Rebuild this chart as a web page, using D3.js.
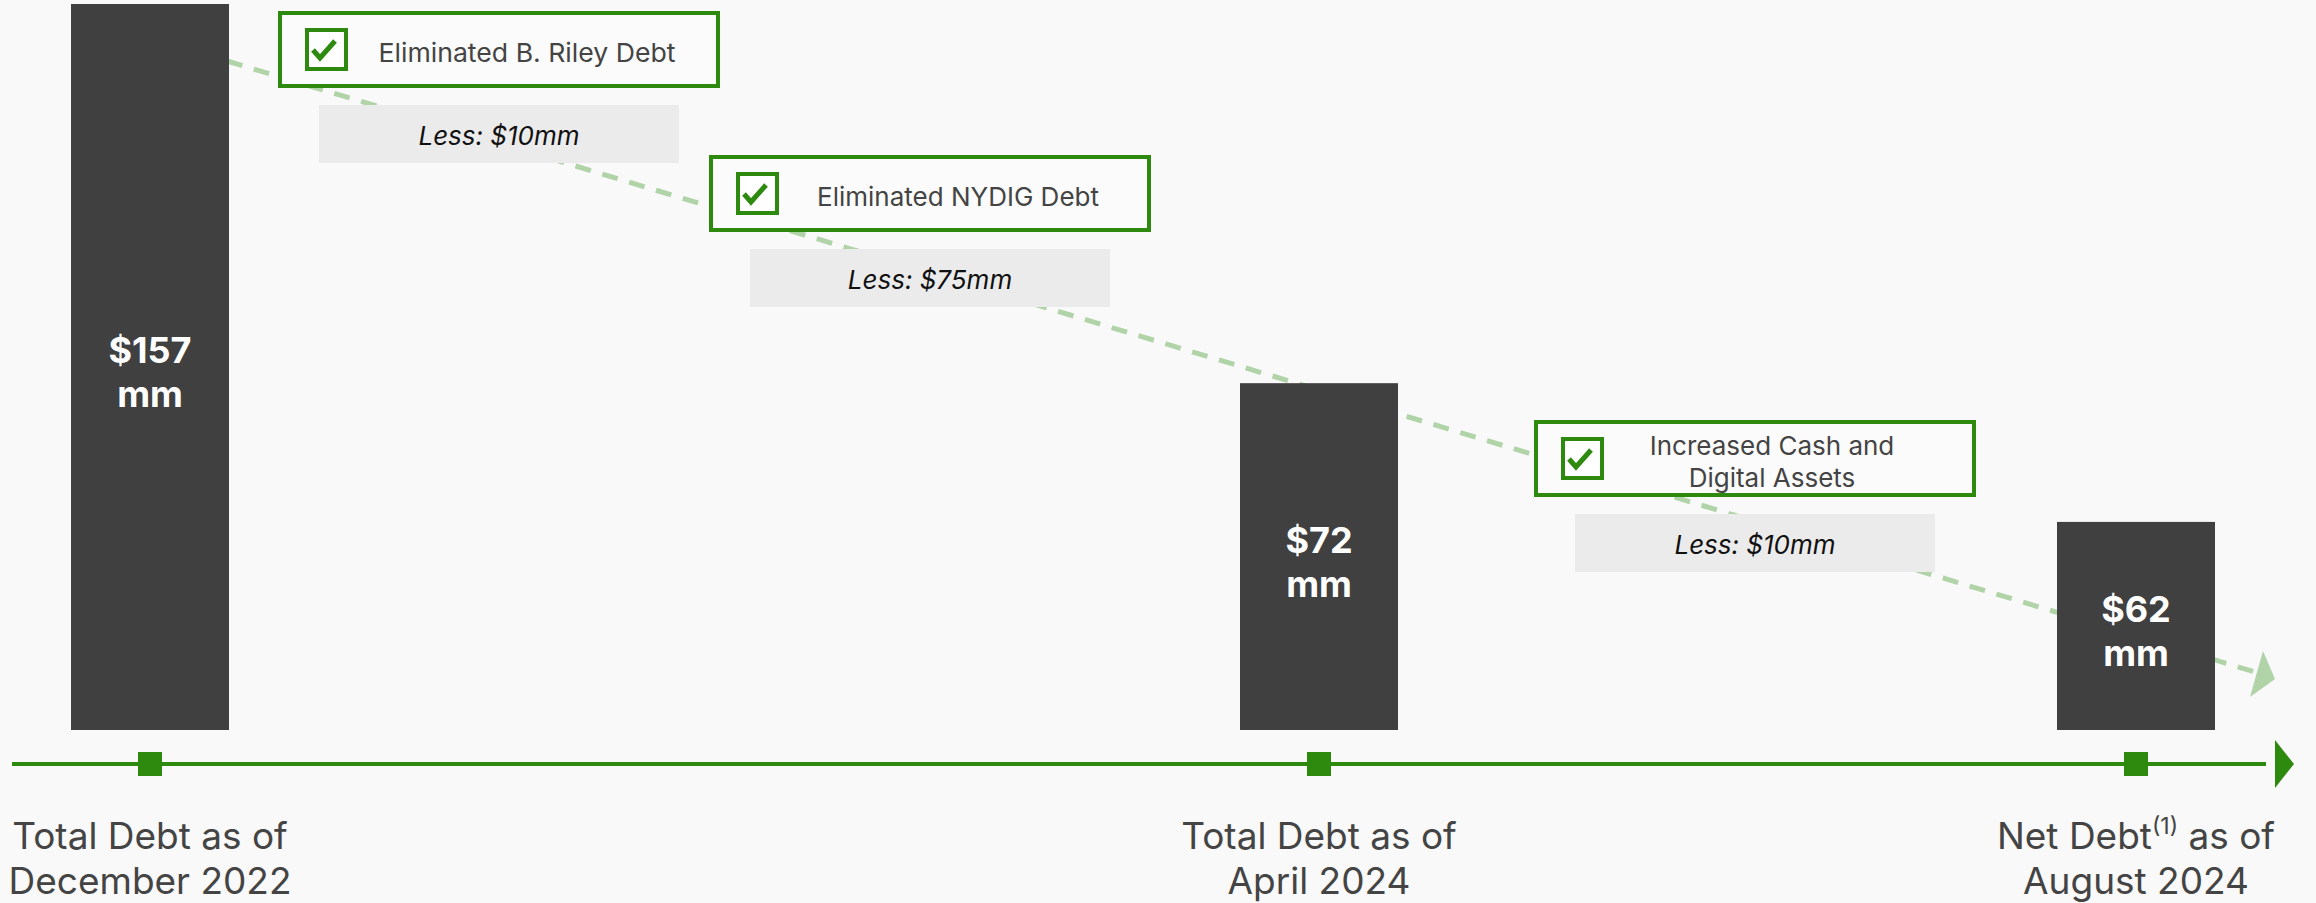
<!DOCTYPE html>
<html>
<head>
<meta charset="utf-8">
<script src="https://cdn.jsdelivr.net/npm/d3@7"></script>
<style>
  body { margin: 0; background: #f9f9f9; }
  svg { display: block; font-family: Inter, "Noto Sans", sans-serif; }
</style>
</head>
<body>
<div id="chart"></div>
<script>
// ---- data ----
var categories = ["Dec 2022", "Apr 2024", "Aug 2024"];
var debtValues = [157, 72, 62];          // $mm, as printed on the bars
var drawnLevels = [157, 75, 45];         // bar length as drawn on the slide ($mm on bar 1's scale)
var catLine1 = ["Total Debt as of", "Total Debt as of", "Net Debt^(1)^ as of"];
var catLine2 = ["December 2022", "April 2024", "August 2024"];

var stepTitles = [["Eliminated B. Riley Debt"], ["Eliminated NYDIG Debt"], ["Increased Cash and", "Digital Assets"]];
var stepAmounts = [10, 75, 10];

// ---- chart state ----
var width = 2316,
    height = 903,
    green = "#2e8a0e",//timeline + check boxes
    trendGreen = "#b0d3a8",//dashed trend line
    barColor = "#404040",
    textColor = "#444444",
    barW = 158,
    baseY = 730,//bottom of the bars
    axisY = 764;

var x = d3.scaleOrdinal()//bar centres along the timeline
    .domain(categories)
    .range([150, 1319, 2136]);

var y = d3.scaleLinear()
    .domain([0, 157])
    .range([baseY, 4]);

// where each step annotation sits (top-left of the green box)
var stepX = d3.scaleOrdinal().domain([0, 1, 2]).range([280, 711, 1536]),
    stepY = d3.scaleOrdinal().domain([0, 1, 2]).range([13, 157, 422]);

var svg = d3.select("#chart").append("svg")
    .attr("width", width)
    .attr("height", height);

svg.append("rect")
    .attr("width", width).attr("height", height)
    .attr("fill", "#f9f9f9");

// dashed trend line, drawn first so boxes and bars sit on top
var trend = svg.append("g");
trend.append("line")
    .attr("x1", x(categories[0]) + barW / 2 - 2).attr("y1", 61)
    .attr("x2", 2255).attr("y2", 672)
    .attr("stroke", trendGreen)
    .attr("stroke-width", 5)
    .attr("stroke-dasharray", "16 12");
trend.append("path")
    .attr("d", "M2263,651 L2275,679 L2250,697 Z")
    .attr("fill", trendGreen);

// bars
var bars = svg.append("g");
bars.selectAll("rect")
    .data(categories)
    .join("rect")
    .attr("x", function(d) { return x(d) - barW / 2; })
    .attr("y", function(d, i) { return y(drawnLevels[i]); })
    .attr("width", barW)
    .attr("height", function(d, i) { return baseY - y(drawnLevels[i]); })
    .attr("fill", barColor);

bars.selectAll("text.val")
    .data(categories)
    .join("text")
    .attr("class", "val")
    .attr("x", function(d) { return x(d); })
    .attr("y", function(d, i) { return (y(drawnLevels[i]) + baseY) / 2 - 4; })
    .attr("text-anchor", "middle")
    .attr("fill", "#ffffff")
    .attr("font-size", 36)
    .attr("font-weight", 700)
    .text(function(d, i) { return "$" + debtValues[i]; });

bars.selectAll("text.unit")
    .data(categories)
    .join("text")
    .attr("class", "unit")
    .attr("x", function(d) { return x(d); })
    .attr("y", function(d, i) { return (y(drawnLevels[i]) + baseY) / 2 + 40; })
    .attr("text-anchor", "middle")
    .attr("fill", "#ffffff")
    .attr("font-size", 36)
    .attr("font-weight", 700)
    .text("mm");

// step annotations
var steps = svg.append("g").selectAll("g")
    .data(stepTitles)
    .join("g")
    .attr("transform", function(d, i) { return "translate(" + stepX(i) + "," + stepY(i) + ")"; });

steps.append("rect")
    .attr("width", 438).attr("height", 73)
    .attr("fill", "#fbfbfb")
    .attr("stroke", green)
    .attr("stroke-width", 4);

steps.append("rect")//check box
    .attr("x", 27).attr("y", 17)
    .attr("width", 39).attr("height", 39)
    .attr("fill", "#ffffff")
    .attr("stroke", green)
    .attr("stroke-width", 4);

steps.append("path")//tick mark
    .attr("d", "M33,37 L40,45 L55,28")
    .attr("fill", "none")
    .attr("stroke", green)
    .attr("stroke-width", 5)
    .attr("stroke-linecap", "butt");

steps.each(function(lines, i) {
    var g = d3.select(this);
    var top = lines.length == 1 ? 49 : 33;
    lines.forEach(function(t, k) {
        var txt = g.append("text")
            .attr("x", lines.length == 1 ? 247 : 236)
            .attr("y", top + k * 32)
            .attr("text-anchor", "middle")
            .attr("fill", textColor)
            .attr("font-size", 26)
            .text(t);
        // the first caption is set a little condensed on the slide
        if (i == 0) txt.attr("textLength", 297).attr("lengthAdjust", "spacingAndGlyphs");
    });
});

steps.append("rect")//grey "Less:" box
    .attr("x", 39).attr("y", 92)
    .attr("width", 360).attr("height", 58)
    .attr("fill", "#ebebeb");

steps.append("text")
    .attr("x", 219).attr("y", 132)
    .attr("text-anchor", "middle")
    .attr("fill", "#111111")
    .attr("font-size", 26)
    .attr("font-style", "italic")
    .text(function(d, i) { return "Less: $" + stepAmounts[i] + "mm"; });

// timeline axis
var axis = svg.append("g");
axis.append("line")
    .attr("x1", 12).attr("x2", 2266)
    .attr("y1", axisY).attr("y2", axisY)
    .attr("stroke", green)
    .attr("stroke-width", 4);
axis.append("path")
    .attr("d", "M2275," + (axisY - 24) + " L2294," + axisY + " L2275," + (axisY + 24) + " Z")
    .attr("fill", green);
axis.selectAll("rect")
    .data(categories)
    .join("rect")
    .attr("x", function(d) { return x(d) - 12; })
    .attr("y", axisY - 12)
    .attr("width", 24).attr("height", 24)
    .attr("fill", green);

// category labels, "^" marks a superscript run
var labels = axis.selectAll("g.lab")
    .data(categories)
    .join("g")
    .attr("class", "lab");

labels.append("text")
    .attr("x", function(d) { return x(d); })
    .attr("y", 849)
    .attr("text-anchor", "middle")
    .attr("fill", textColor)
    .attr("font-size", 37)
    .each(function(d, i) {
        var t = d3.select(this);
        catLine1[i].split("^").forEach(function(part, k) {
            var s = t.append("tspan").text(part);
            if (k % 2 == 1) s.attr("font-size", 23).attr("dy", -15);
            else if (k > 0) s.attr("dy", 15);
        });
    });

labels.append("text")
    .attr("x", function(d) { return x(d); })
    .attr("y", 894)
    .attr("text-anchor", "middle")
    .attr("fill", textColor)
    .attr("font-size", 37)
    .text(function(d, i) { return catLine2[i]; });
</script>
</body>
</html>
